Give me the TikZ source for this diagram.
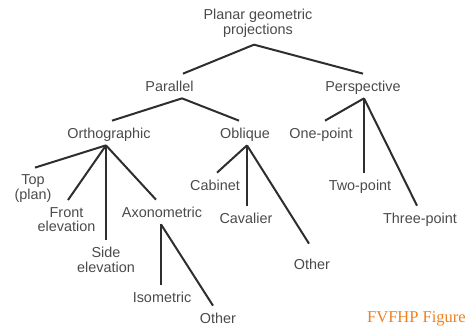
\documentclass[tikz,border=0pt]{standalone}
\usepackage{fontspec}
\usepackage{xcolor}
\usepackage{tikz}
\newfontfamily\treefont{Liberation Sans}
\newfontfamily\figfont{Liberation Serif}
\definecolor{txtgray}{HTML}{4A4A4A}
\definecolor{linegray}{HTML}{2E2E2E}
\definecolor{figorange}{HTML}{F0801E}

\begin{document}
\begin{tikzpicture}[x=1pt,y=-1pt,
  lbl/.style={font=\treefont\fontsize{14.4}{14.5}\selectfont,text=txtgray,inner xsep=0pt,inner ysep=7pt,align=center},
  one/.style={lbl,text height=10.3pt,text depth=0pt},
  link/.style={draw=linegray,line width=2pt}]
  \useasboundingbox (0,0) rectangle (467,327);
  \node[lbl] (root) at (258,23.5) {Planar geometric\\projections};
  \node[one] (par) at (169.5,86) {Parallel};
  \node[one] (persp) at (363,86) {Perspective};
  \node[one] (orth) at (109,133) {Orthographic};
  \node[one] (obl) at (245,133) {Oblique};
  \node[one] (onept) at (321,133) {One-point};
  \node[lbl] (top) at (33,188.5) {Top\\(plan)};
  \node[lbl] (front) at (66.5,219.5) {Front\\elevation};
  \node[lbl] (side) at (106,260) {Side\\elevation};
  \node[one] (axo) at (162,212) {Axonometric};
  \node[one] (iso) at (162,297) {Isometric};
  \node[one] (axoother) at (218,318) {Other};
  \node[one] (cab) at (215,185) {Cabinet};
  \node[one] (cav) at (246,218) {Cavalier};
  \node[one] (oblother) at (312,264) {Other};
  \node[one] (twopt) at (360,185) {Two-point};
  \node[one] (threept) at (420,218) {Three-point};
  \node[font=\figfont\fontsize{16.5}{18}\selectfont,text=figorange,anchor=west,inner sep=0pt] (fig) at (367,319) {FVFHP Figure};
  \draw[link] ([xshift=-4pt]root.south) -- ([xshift=13.5pt]par.north);
  \draw[link] ([xshift=-4pt]root.south) -- (persp.north);
  \draw[link] ([xshift=12.5pt]par.south) -- ([xshift=3pt]orth.north);
  \draw[link] ([xshift=12.5pt]par.south) -- ([xshift=-6pt]obl.north);
  \draw[link] ([xshift=1pt]persp.south) -- ([xshift=4pt]onept.north);
  \draw[link] ([xshift=1pt]persp.south) -- ([xshift=4pt]twopt.north);
  \draw[link] ([xshift=1pt]persp.south) -- ([xshift=-3pt]threept.north);
  \draw[link] ([xshift=-3pt]orth.south) -- ([xshift=2pt]top.north);
  \draw[link] ([xshift=-3pt]orth.south) -- ([xshift=1.5pt]front.north);
  \draw[link] ([xshift=-3pt]orth.south) -- (side.north);
  \draw[link] ([xshift=-3pt]orth.south) -- ([xshift=-6pt]axo.north);
  \draw[link] ([xshift=2pt]obl.south) -- ([xshift=2pt]cab.north);
  \draw[link] ([xshift=2pt]obl.south) -- ([xshift=1pt]cav.north);
  \draw[link] ([xshift=2pt]obl.south) -- ([xshift=-3pt,yshift=8pt]oblother.north);
  \draw[link] ([xshift=-1pt]axo.south) -- ([xshift=-1pt]iso.north);
  \draw[link] ([xshift=-1pt]axo.south) -- ([xshift=-5pt]axoother.north);
\end{tikzpicture}
\end{document}
